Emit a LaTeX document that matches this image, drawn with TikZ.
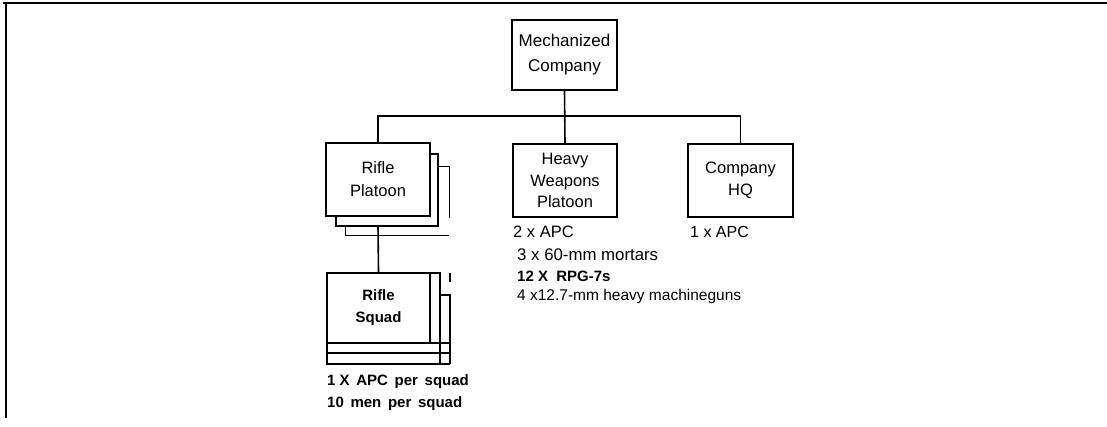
\documentclass[tikz,border=0pt]{standalone}
\usepackage{fontspec}
\setmainfont{Liberation Sans}
\begin{document}
\begin{tikzpicture}[x=1pt,y=-1pt,
  box/.style={draw,line width=1.1pt,align=center,inner sep=0pt,font=\fontsize{16.5}{22}\selectfont},
  conn/.style={line width=1.6pt},
  thin/.style={line width=0.9pt},
  note/.style={anchor=west,inner sep=0pt,font=\fontsize{15.5}{18}\selectfont},
  bnote/.style={anchor=west,inner sep=0pt,font=\fontsize{15}{18}\selectfont\bfseries}]
\useasboundingbox (0,0) rectangle (1107,427);
% frame
\draw[line width=2pt] (3,3) -- (1107,3);
\draw[line width=2pt] (6,3) -- (6,418);
% boxes
\node[box,minimum width=105pt,minimum height=70pt,font=\fontsize{17}{25}\selectfont] (mc) at (564.5,55) {Mechanized\\Company};
\node[box,minimum width=104pt,minimum height=73pt,font=\fontsize{16.5}{23}\selectfont] (rp) at (378,179.5) {Rifle\\Platoon};
\node[box,minimum width=104pt,minimum height=73pt,font=\fontsize{16.5}{21.5}\selectfont] (hw) at (565,180.5) {Heavy\\Weapons\\Platoon};
\node[box,minimum width=105pt,minimum height=73pt,font=\fontsize{16.5}{21.5}\selectfont] (hq) at (740.5,180.5) {Company\\HQ};
\node[box,minimum width=103pt,minimum height=70pt,font=\fontsize{15}{22}\selectfont\bfseries] (rs) at (378.5,308) {Rifle\\Squad};
% stacked platoon boxes
\draw[conn] (rp.north east |- 0,154) -- (438,154) -- (438,226) -- (336,226) -- (336,216);
\draw[thin] (438,166) -- (449,166) -- (449,218);
\draw[thin] (345,226) -- (345,235) -- (449,235);
% stacked squad boxes
\draw[conn] (327,343) -- (327,364) -- (450,364);
\draw[conn] (327,353) -- (450,353);
\draw[conn] (430,343) -- (450,343);
\draw[conn] (430,273) -- (440,273) -- (440,364);
\draw[conn] (440,295) -- (450,295) -- (450,364);
\draw[conn] (450,273) -- (450,282);
% connectors
\coordinate (bus) at (565,116);
\coordinate (rpb) at (378,226);
\draw[conn] (mc.south) -- (hw.north);
\draw[conn] (rp.north) |- (bus) -| (hq.north);
\draw[conn] (rpb) -- (rs.north);
% notes
\node[note,font=\fontsize{16.5}{18}\selectfont] (n1) at (513,232) {2 x APC};
\node[note,font=\fontsize{16.8}{18}\selectfont] (n2) at (517,255) {3 x 60-mm mortars};
\node[bnote,font=\fontsize{15}{18}\selectfont\bfseries] (n3) at (517,276) {12 X \ RPG-7s};
\node[note] (n4) at (517,296) {4 x12.7-mm heavy machineguns};
\node[note,font=\fontsize{16}{18}\selectfont] (n5) at (690,232) {1 x APC};
\node[bnote] (n6) at (327,382) {1 X \,APC \,per \,squad};
\node[bnote] (n7) at (327,404) {10 \,men \,per \,squad};
\end{tikzpicture}
\end{document}
